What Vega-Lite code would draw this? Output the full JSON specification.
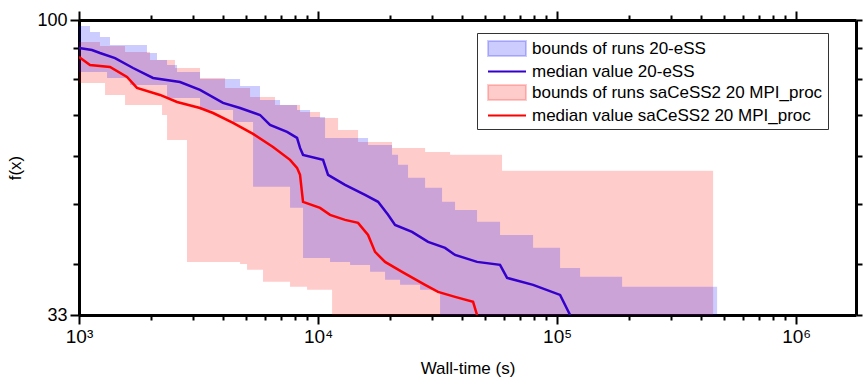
{
  "$schema": "https://vega.github.io/schema/vega-lite/v6.json",
  "width": 777,
  "height": 295,
  "autosize": {"type": "none"},
  "padding": {"left": 79, "top": 20, "right": 10, "bottom": 70},
  "background": "white",
  "config": {"view": {"stroke": null}, "font": "Liberation Sans"},
  "data": {"values": [
    {"s":"sB","t":1000,"hi":92.07,"lo":78.93},
    {"s":"sB","t":1224,"hi":90.69,"lo":78.93},
    {"s":"sB","t":1285,"hi":90.69,"lo":75.45},
    {"s":"sB","t":1558,"hi":88.66,"lo":72.67},
    {"s":"sB","t":1982,"hi":86.03,"lo":72.67},
    {"s":"sB","t":2225,"hi":86.03,"lo":69.98},
    {"s":"sB","t":2335,"hi":86.03,"lo":63.72},
    {"s":"sB","t":2521,"hi":83.49,"lo":63.72},
    {"s":"sB","t":2830,"hi":83.49,"lo":40.29},
    {"s":"sB","t":3208,"hi":80.42,"lo":40.29},
    {"s":"sB","t":4082,"hi":77.46,"lo":40.29},
    {"s":"sB","t":4718,"hi":77.46,"lo":39.99},
    {"s":"sB","t":5047,"hi":77.46,"lo":39.10},
    {"s":"sB","t":5195,"hi":74.89,"lo":39.10},
    {"s":"sB","t":5886,"hi":74.89,"lo":37.38},
    {"s":"sB","t":6607,"hi":72.67,"lo":37.38},
    {"s":"sB","t":7636,"hi":72.67,"lo":36.68},
    {"s":"sB","t":8407,"hi":70.77,"lo":36.68},
    {"s":"sB","t":8994,"hi":70.77,"lo":36.27},
    {"s":"sB","t":10195,"hi":69.20,"lo":36.27},
    {"s":"sB","t":11446,"hi":69.20,"lo":33},
    {"s":"sB","t":12127,"hi":66.16,"lo":33},
    {"s":"sB","t":14703,"hi":63.25,"lo":33},
    {"s":"sB","t":20399,"hi":61.84,"lo":33},
    {"s":"sB","t":28040,"hi":60.92,"lo":33},
    {"s":"sB","t":35669,"hi":60.24,"lo":33},
    {"s":"sB","t":58847,"hi":56.73,"lo":33},
    {"s":"sB","t":449500,"hi":56.73,"lo":33},

    {"s":"eB","t":1000,"hi":97.77,"lo":82.25},
    {"s":"eB","t":1112,"hi":95.59,"lo":82.25},
    {"s":"eB","t":1224,"hi":93.81,"lo":82.25},
    {"s":"eB","t":1310,"hi":93.81,"lo":80.42},
    {"s":"eB","t":1348,"hi":91.03,"lo":80.42},
    {"s":"eB","t":1635,"hi":91.03,"lo":78.34},
    {"s":"eB","t":1925,"hi":88.33,"lo":78.34},
    {"s":"eB","t":2120,"hi":86.03,"lo":78.34},
    {"s":"eB","t":2335,"hi":84.43,"lo":74.61},
    {"s":"eB","t":2571,"hi":82.25,"lo":74.61},
    {"s":"eB","t":3208,"hi":80.12,"lo":71.31},
    {"s":"eB","t":4409,"hi":80.12,"lo":68.17},
    {"s":"eB","t":4718,"hi":78.04,"lo":68.17},
    {"s":"eB","t":5347,"hi":78.04,"lo":53.42},
    {"s":"eB","t":5718,"hi":74.05,"lo":53.42},
    {"s":"eB","t":6934,"hi":72.67,"lo":53.42},
    {"s":"eB","t":7636,"hi":72.67,"lo":49.36},
    {"s":"eB","t":8168,"hi":71.31,"lo":49.36},
    {"s":"eB","t":8654,"hi":71.31,"lo":40.90},
    {"s":"eB","t":9258,"hi":69.46,"lo":40.90},
    {"s":"eB","t":10698,"hi":64.20,"lo":40.90},
    {"s":"eB","t":11225,"hi":64.20,"lo":40.29},
    {"s":"eB","t":13614,"hi":64.20,"lo":39.84},
    {"s":"eB","t":16188,"hi":62.54,"lo":39.84},
    {"s":"eB","t":16503,"hi":62.54,"lo":38.81},
    {"s":"eB","t":19069,"hi":62.54,"lo":37.66},
    {"s":"eB","t":20399,"hi":60.24,"lo":37.66},
    {"s":"eB","t":21613,"hi":58.02,"lo":37.66},
    {"s":"eB","t":22033,"hi":58.02,"lo":36.96},
    {"s":"eB","t":23793,"hi":55.26,"lo":36.96},
    {"s":"eB","t":26720,"hi":55.26,"lo":36.27},
    {"s":"eB","t":28040,"hi":53.22,"lo":36.27},
    {"s":"eB","t":31470,"hi":53.22,"lo":35.86},
    {"s":"eB","t":32390,"hi":53.22,"lo":33},
    {"s":"eB","t":33021,"hi":50.49,"lo":33},
    {"s":"eB","t":37427,"hi":48.98,"lo":33},
    {"s":"eB","t":46265,"hi":46.83,"lo":33},
    {"s":"eB","t":57725,"hi":44.59,"lo":33},
    {"s":"eB","t":79356,"hi":42.47,"lo":33},
    {"s":"eB","t":102932,"hi":39.39,"lo":33},
    {"s":"eB","t":124800,"hi":38.09,"lo":33},
    {"s":"eB","t":187100,"hi":36.68,"lo":33},
    {"s":"eB","t":467200,"hi":36.68,"lo":33},

    {"s":"eM","t":1000,"f":90.00},
    {"s":"eM","t":1133,"f":89.33},
    {"s":"eM","t":1224,"f":88.33},
    {"s":"eM","t":1415,"f":86.68},
    {"s":"eM","t":1683,"f":83.49},
    {"s":"eM","t":2040,"f":80.42},
    {"s":"eM","t":2646,"f":79.22},
    {"s":"eM","t":3208,"f":76.88},
    {"s":"eM","t":4004,"f":73.22},
    {"s":"eM","t":4718,"f":71.84},
    {"s":"eM","t":5718,"f":69.98},
    {"s":"eM","t":6297,"f":67.41},
    {"s":"eM","t":7419,"f":65.66},
    {"s":"eM","t":8168,"f":64.20},
    {"s":"eM","t":8407,"f":61.84},
    {"s":"eM","t":8654,"f":60.24},
    {"s":"eM","t":10494,"f":59.12},
    {"s":"eM","t":11011,"f":55.88},
    {"s":"eM","t":12972,"f":53.83},
    {"s":"eM","t":15727,"f":51.84},
    {"s":"eM","t":17825,"f":50.49},
    {"s":"eM","t":19628,"f":48.08},
    {"s":"eM","t":20997,"f":46.30},
    {"s":"eM","t":24728,"f":45.10},
    {"s":"eM","t":28862,"f":43.43},
    {"s":"eM","t":33990,"f":42.47},
    {"s":"eM","t":37427,"f":41.36},
    {"s":"eM","t":46265,"f":40.29},
    {"s":"eM","t":57725,"f":39.84},
    {"s":"eM","t":61780,"f":37.94},
    {"s":"eM","t":79356,"f":36.96},
    {"s":"eM","t":102932,"f":35.59},
    {"s":"eM","t":113341,"f":33},

    {"s":"sM","t":1000,"f":87.00},
    {"s":"sM","t":1112,"f":84.43},
    {"s":"sM","t":1348,"f":83.80},
    {"s":"sM","t":1588,"f":80.72},
    {"s":"sM","t":1748,"f":77.46},
    {"s":"sM","t":2183,"f":75.45},
    {"s":"sM","t":2571,"f":73.49},
    {"s":"sM","t":3208,"f":71.84},
    {"s":"sM","t":3637,"f":70.50},
    {"s":"sM","t":4409,"f":67.92},
    {"s":"sM","t":5347,"f":65.17},
    {"s":"sM","t":6482,"f":62.07},
    {"s":"sM","t":7636,"f":59.12},
    {"s":"sM","t":8168,"f":57.37},
    {"s":"sM","t":8407,"f":55.88},
    {"s":"sM","t":8654,"f":50.49},
    {"s":"sM","t":10195,"f":49.36},
    {"s":"sM","t":11225,"f":48.08},
    {"s":"sM","t":12972,"f":47.18},
    {"s":"sM","t":14703,"f":46.65},
    {"s":"sM","t":16188,"f":44.59},
    {"s":"sM","t":17317,"f":41.83},
    {"s":"sM","t":19069,"f":40.29},
    {"s":"sM","t":22462,"f":38.81},
    {"s":"sM","t":28040,"f":36.96},
    {"s":"sM","t":31775,"f":36.00},
    {"s":"sM","t":37427,"f":35.33},
    {"s":"sM","t":44516,"f":34.67},
    {"s":"sM","t":46265,"f":33}
  ]},
  "encoding": {
    "color": {
      "field": "s", "type": "nominal",
      "scale": {"domain": ["eB","eM","sB","sM"], "range": ["rgba(0,0,255,0.2)", "#3300cc", "rgba(255,0,0,0.2)", "#ff0000"]},
      "legend": {
        "orient": "none", "legendX": 398, "legendY": 13, "title": null,
        "labelExpr": "datum.value=='eB' ? 'bounds of runs 20-eSS' : datum.value=='eM' ? 'median value 20-eSS' : datum.value=='sB' ? 'bounds of runs saCeSS2 20 MPI_proc\u00a0\u00a0\u00a0\u00a0\u00a0\u00a0\u00a0\u00a0\u00a0\u00a0\u00a0' : 'median value saCeSS2 20 MPI_proc'",
        "labelFont": "Liberation Sans", "labelFontSize": 17, "labelColor": "black", "labelLimit": 0,
        "symbolType": "M-2,-0.8H2V0.8H-2Z", "symbolSize": 361, "symbolStrokeWidth": 0, "symbolOpacity": 1,
        "symbolOffset": 14.5, "labelOffset": 14.5,
        "rowPadding": 0, "padding": 5,
        "strokeColor": "#333333", "fillColor": "white",
        "encode": {"symbols": {"update": {
          "shape": {"signal": "(datum.value=='eM' || datum.value=='sM') ? 'M-2,0H2' : 'M-2,-0.8H2V0.8H-2Z'"},
          "fill": {"signal": "(datum.value=='eM' || datum.value=='sM') ? 'transparent' : scale('color', datum.value)"},
          "stroke": {"signal": "(datum.value=='eM' || datum.value=='sM') ? scale('color', datum.value) : 'transparent'"},
          "strokeWidth": {"value": 2},
          "opacity": {"value": 1}
        }}}
      }
    }
  },
  "layer": [
    {
      "transform": [{"filter": "datum.s=='sB'"}],
      "mark": {"type": "area", "interpolate": "step-after", "opacity": 1, "clip": true},
      "encoding": {
        "x": {"field": "t", "type": "quantitative",
          "scale": {"type": "log", "domain": [1000, 1780000], "nice": false},
          "axis": {"orient": "bottom", "values": [1000,2000,3000,4000,5000,6000,7000,8000,9000,10000,20000,30000,40000,50000,60000,70000,80000,90000,100000,200000,300000,400000,500000,600000,700000,800000,900000,1000000],
            "labelExpr": "datum.value==1000 ? '10³' : datum.value==10000 ? '10⁴' : datum.value==100000 ? '10⁵' : datum.value==1000000 ? '10⁶' : ''",
            "labelOverlap": false, "labelFontSize": 19, "labelColor": "black", "labelPadding": 3, "labelFlush": false,
            "tickSize": {"condition": {"test": "datum.value==1000||datum.value==10000||datum.value==100000||datum.value==1000000", "value": 9}, "value": 5},
            "tickWidth": 2, "tickColor": "black", "domainColor": "black", "domainWidth": 3, "grid": false,
            "title": "Wall-time (s)", "titleFontSize": 17, "titleFontWeight": "normal", "titleColor": "black", "titlePadding": 14}},
        "y": {"field": "hi", "type": "quantitative",
          "scale": {"type": "log", "domain": [33, 100], "nice": false},
          "axis": {"orient": "left", "values": [33,40,50,60,70,80,90,100],
            "labelExpr": "datum.value==100 ? '100' : datum.value==33 ? '33' : ''",
            "labelOverlap": false, "labelFontSize": 18, "labelColor": "black", "labelPadding": 3, "labelFlush": false,
            "tickSize": {"condition": {"test": "datum.value==100||datum.value==33", "value": 9}, "value": 6},
            "tickWidth": 2, "tickColor": "black", "domainColor": "black", "domainWidth": 3, "grid": false,
            "title": "f(x)", "titleFontSize": 17, "titleFontWeight": "normal", "titleColor": "black", "titlePadding": 12}},
        "y2": {"field": "lo"}
      }
    },
    {
      "transform": [{"filter": "datum.s=='eB'"}],
      "mark": {"type": "area", "interpolate": "step-after", "opacity": 1, "clip": true},
      "encoding": {
        "x": {"field": "t", "type": "quantitative",
          "scale": {"type": "log", "domain": [1000, 1780000], "nice": false},
          "axis": {"orient": "top", "values": [1000,2000,3000,4000,5000,6000,7000,8000,9000,10000,20000,30000,40000,50000,60000,70000,80000,90000,100000,200000,300000,400000,500000,600000,700000,800000,900000,1000000],
            "labels": false,
            "tickSize": {"condition": {"test": "datum.value==1000||datum.value==10000||datum.value==100000||datum.value==1000000", "value": 9}, "value": 5},
            "tickWidth": 2, "tickColor": "black", "domainColor": "black", "domainWidth": 3, "grid": false, "title": null}},
        "y": {"field": "hi", "type": "quantitative",
          "scale": {"type": "log", "domain": [33, 100], "nice": false},
          "axis": {"orient": "right", "values": [33,40,50,60,70,80,90,100], "labels": false,
            "tickSize": 6, "tickWidth": 2, "tickColor": "black", "domainColor": "black", "domainWidth": 3, "grid": false, "title": null}},
        "y2": {"field": "lo"}
      }
    },
    {
      "transform": [{"filter": "datum.s=='eM'"}],
      "mark": {"type": "line", "strokeWidth": 2.5, "clip": true},
      "encoding": {
        "x": {"field": "t", "type": "quantitative", "scale": {"type": "log", "domain": [1000, 1780000], "nice": false}, "axis": null},
        "y": {"field": "f", "type": "quantitative", "scale": {"type": "log", "domain": [33, 100], "nice": false}, "axis": null}
      }
    },
    {
      "transform": [{"filter": "datum.s=='sM'"}],
      "mark": {"type": "line", "strokeWidth": 2.5, "clip": true},
      "encoding": {
        "x": {"field": "t", "type": "quantitative", "scale": {"type": "log", "domain": [1000, 1780000], "nice": false}, "axis": null},
        "y": {"field": "f", "type": "quantitative", "scale": {"type": "log", "domain": [33, 100], "nice": false}, "axis": null}
      }
    }
  ],
  "resolve": {"axis": {"x": "independent", "y": "independent"}}
}
